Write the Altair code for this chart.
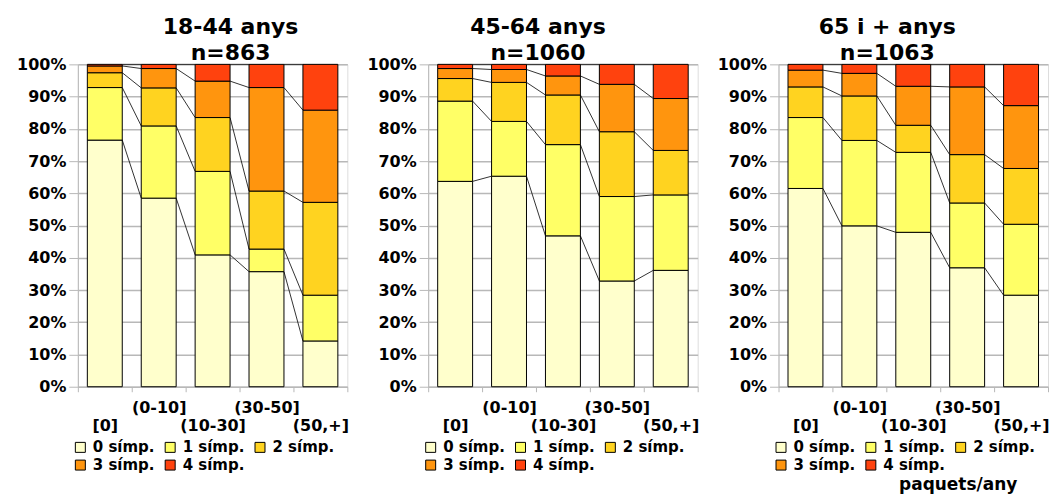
import json
import altair as alt
import pandas as pd

# Smoking categories (packs/year) and symptom counts
cats = ["[0]", "(0-10]", "(10-30]", "(30-50]", "(50,+]"]
levels = ["0 símp.", "1 símp.", "2 símp.", "3 símp.", "4 símp."]
level_colors = ["#ffffcc", "#ffff66", "#ffd320", "#ff950e", "#ff420e"]

groups = ["18-44 anys", "45-64 anys", "65 i + anys"]
group_n = [863, 1060, 1063]

# Percentage of people with each number of symptoms, per smoking category
pct_18_44 = {
    "0 símp.": [76.5, 58.5, 40.9, 35.7, 14.2],
    "1 símp.": [16.3, 22.4, 25.9, 7.0, 14.2],
    "2 símp.": [4.6, 11.8, 16.7, 18.0, 28.8],
    "3 símp.": [2.1, 6.0, 11.3, 32.1, 28.6],
    "4 símp.": [0.5, 1.3, 5.2, 7.2, 14.2],
}
pct_45_64 = {
    "0 símp.": [63.7, 65.3, 46.8, 32.8, 36.1],
    "1 símp.": [24.9, 17.0, 28.3, 26.2, 23.4],
    "2 símp.": [7.0, 12.1, 15.4, 20.1, 13.8],
    "3 símp.": [3.1, 4.0, 5.9, 14.7, 16.1],
    "4 símp.": [1.3, 1.6, 3.6, 6.2, 10.6],
}
pct_65_plus = {
    "0 símp.": [61.5, 49.9, 47.9, 36.9, 28.4],
    "1 símp.": [22.0, 26.5, 24.8, 20.1, 22.0],
    "2 símp.": [9.5, 13.8, 8.4, 15.0, 17.3],
    "3 símp.": [5.2, 7.0, 12.1, 21.0, 19.5],
    "4 símp.": [1.8, 2.8, 6.8, 7.0, 12.8],
}
group_data = [pct_18_44, pct_45_64, pct_65_plus]
title_dx = [18, -25, -26]

FONT = "DejaVu Sans"
W, H = 270, 323
HALF_BAR = 0.324  # half bar width in category units
GRID = "#b8b8b8"


def build_frames(pct):
    bars, links = [], []
    cum = {}
    for i, c in enumerate(cats):
        base = 0.0
        for k, lv in enumerate(levels):
            v = pct[lv][i] / 100.0
            bars.append({"cat": c, "level": lv, "order": k,
                         "xa": i + 0.5 - HALF_BAR, "xb": i + 0.5 + HALF_BAR,
                         "y0": base, "y1": base + v})
            base += v
            cum[(i, k)] = base
    for i in range(len(cats) - 1):
        for k in range(len(levels)):
            links.append({"xa": i + 0.5 + HALF_BAR, "xb": i + 1.5 - HALF_BAR,
                          "ya": cum[(i, k)], "yb": cum[(i + 1, k)]})
    return pd.DataFrame(bars), pd.DataFrame(links)


# staggered two-row category labels at the bottom axis
stagger = [["", c] if i % 2 == 0 else [c, ""] for i, c in enumerate(cats)]
label_expr = f"{json.dumps(stagger)}[datum.value]"

x_scale = alt.Scale(domain=[0, len(cats)], nice=False, zero=False)
y_scale = alt.Scale(domain=[0, 1], nice=False)

# labelled axis: one label per category, centred between boundary ticks
x_label_axis = alt.Axis(values=list(range(len(cats))), labelExpr=label_expr,
                        labelOffset=W / len(cats) / 2, labelOverlap=False,
                        labelFlush=False, labelBound=False, grid=False,
                        title=None, ticks=False, domain=False, orient="bottom",
                        labelFont=FONT, labelFontSize=16,
                        labelFontWeight="bold", labelColor="black",
                        labelPadding=13, labelLineHeight=18,
                        labelBaseline="top")
# tick axis: marks at category boundaries
x_tick_axis = alt.Axis(values=list(range(len(cats) + 1)), labels=False,
                       grid=False, title=None, tickSize=5, tickColor=GRID,
                       domainColor=GRID, orient="bottom")
y_axis = alt.Axis(values=[i / 10 for i in range(11)], format=".0%",
                  title=None, tickSize=9, tickColor=GRID, domainColor=GRID,
                  grid=True, gridColor=GRID, gridWidth=1.5, labelFont=FONT,
                  labelFontSize=16, labelFontWeight="bold",
                  labelColor="black", labelPadding=3, labelOverlap=False)

legend = alt.Legend(orient="none", legendX=-5, legendY=H + 53, title=None,
                    direction="horizontal", columns=3, symbolType="square",
                    symbolSize=100, symbolStrokeColor="black",
                    symbolStrokeWidth=1, labelFont=FONT, labelFontSize=15,
                    labelFontWeight="bold", labelColor="black",
                    labelOffset=5, columnPadding=8, rowPadding=2,
                    symbolOpacity=1)

panels = []
for g, n, pct, dx in zip(groups, group_n, group_data, title_dx):
    bars_df, links_df = build_frames(pct)
    bars = alt.Chart(bars_df).mark_bar(stroke="black", strokeWidth=1,
                                       opacity=1).encode(
        x=alt.X("xa:Q", scale=x_scale, axis=x_label_axis),
        x2="xb:Q",
        y=alt.Y("y0:Q", scale=y_scale, axis=y_axis),
        y2="y1:Q",
        color=alt.Color("level:N", scale=alt.Scale(domain=levels,
                                                   range=level_colors),
                        legend=legend),
        order="order:Q",
    )
    links = alt.Chart(links_df).mark_rule(color="black",
                                          strokeWidth=0.8).encode(
        x=alt.X("xa:Q", scale=x_scale, axis=x_tick_axis),
        x2="xb:Q",
        y=alt.Y("ya:Q", scale=y_scale, axis=y_axis),
        y2="yb:Q")
    layers = [bars, links]
    if g == groups[-1]:
        axis_note = alt.Chart(pd.DataFrame({"t": ["paquets/any"]})).mark_text(
            font=FONT, fontSize=17, fontWeight="bold", color="black",
            align="center", baseline="middle").encode(
            text="t:N", x=alt.value(180), y=alt.value(H + 98))
        layers.append(axis_note)
    panel = alt.layer(*layers).resolve_axis(x="independent").properties(
        width=W, height=H,
        title=alt.Title([g, f"n={n}"], font=FONT, fontSize=22,
                        fontWeight="bold", color="black", lineHeight=26.5,
                        anchor="middle", frame="group", dx=dx, offset=-9),
    )
    panels.append(panel)

chart = alt.hconcat(*panels, spacing=17).resolve_scale(
    color="independent"
).properties(
    padding={"left": 16, "top": 15, "right": 2, "bottom": 0}
).configure_view(stroke=GRID, strokeWidth=1.5).configure(background="white")

chart.save("out.html", embed_options={"renderer": "svg", "actions": False})
